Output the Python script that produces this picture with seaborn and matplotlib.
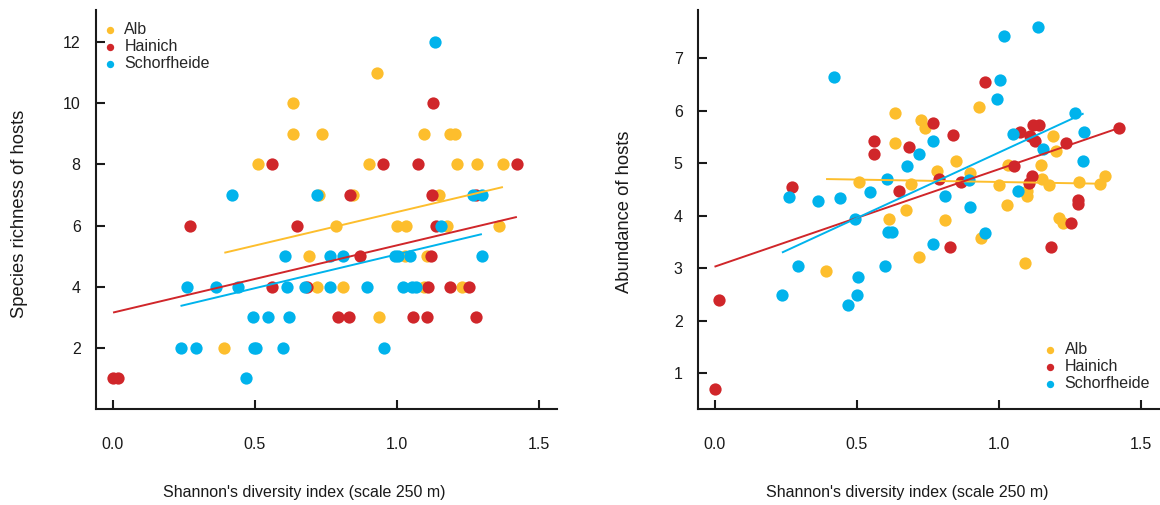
import numpy as np
import pandas as pd
import matplotlib
matplotlib.use("Agg")
import matplotlib.pyplot as plt
import seaborn as sns

# ---------------- data ----------------
sites = ["Alb", "Hainich", "Schorfheide"]
site_colors = ["#FDBE2D", "#D0262A", "#00B3EC"]

# Left panel: species richness of hosts
alb_rich_x = [0.930, 0.635, 0.635, 0.737, 1.095, 1.186, 1.204, 0.512, 0.900, 1.209,
              1.280, 1.372, 0.725, 0.846, 1.147, 0.785, 1.000, 1.032, 1.174, 1.358,
              0.691, 1.028, 1.104, 0.718, 0.811, 1.095, 1.227, 0.937, 0.393]
alb_rich_y = [11, 10, 9, 9, 9, 9, 9, 8, 8, 8,
              8, 8, 7, 7, 7, 6, 6, 6, 6, 6,
              5, 5, 5, 4, 4, 4, 4, 3, 2]
hai_rich_x = [1.126, 0.561, 0.951, 1.073, 1.421, 0.835, 1.121, 1.276, 0.274, 0.649,
              1.136, 0.870, 1.118, 0.560, 0.685, 1.109, 1.186, 1.253, 0.792, 0.830,
              1.055, 1.104, 1.279, 0.002, 0.018]
hai_rich_y = [10, 8, 8, 8, 8, 7, 7, 7, 6, 6,
              6, 5, 5, 4, 4, 4, 4, 4, 3, 3,
              3, 3, 3, 1, 1]
sch_rich_x = [1.133, 0.421, 0.718, 1.267, 1.298, 1.154, 0.607, 0.765, 0.811, 0.993,
              1.004, 1.046, 1.297, 0.262, 0.364, 0.442, 0.613, 0.677, 0.765, 0.895,
              1.020, 1.051, 1.067, 0.495, 0.547, 0.621, 0.239, 0.295, 0.496, 0.505,
              0.599, 0.954, 0.469]
sch_rich_y = [12, 7, 7, 7, 7, 6, 5, 5, 5, 5,
              5, 5, 5, 4, 4, 4, 4, 4, 4, 4,
              4, 4, 4, 3, 3, 3, 2, 2, 2, 2,
              2, 2, 1]

# Right panel: abundance of hosts
alb_abun_x = [0.392, 0.509, 0.612, 0.636, 0.636, 0.673, 0.691, 0.720, 0.725, 0.738,
              0.781, 0.810, 0.847, 0.899, 0.931, 0.937, 1.001, 1.027, 1.033, 1.092,
              1.097, 1.097, 1.147, 1.151, 1.174, 1.188, 1.200, 1.209, 1.223, 1.280,
              1.356, 1.372]
alb_abun_y = [2.95, 4.65, 3.94, 5.95, 5.39, 4.11, 4.61, 3.22, 5.83, 5.67,
              4.86, 3.92, 5.04, 4.81, 6.08, 3.57, 4.59, 4.20, 4.97, 3.10,
              4.48, 4.38, 4.97, 4.70, 4.59, 5.52, 5.24, 3.95, 3.87, 4.65,
              4.61, 4.76]
hai_abun_x = [0.000, 0.015, 0.273, 0.560, 0.560, 0.649, 0.683, 0.767, 0.790, 0.828,
              0.837, 0.867, 0.951, 1.054, 1.074, 1.106, 1.109, 1.115, 1.118, 1.128,
              1.139, 1.184, 1.235, 1.253, 1.278, 1.278, 1.420]
hai_abun_y = [0.70, 2.40, 4.55, 5.43, 5.17, 4.47, 5.32, 5.76, 4.70, 3.40,
              5.54, 4.64, 6.54, 4.95, 5.60, 4.63, 5.52, 4.75, 5.73, 5.42,
              5.73, 3.40, 5.38, 3.87, 4.31, 4.23, 5.67]
sch_abun_x = [0.237, 0.261, 0.295, 0.363, 0.419, 0.441, 0.470, 0.495, 0.500, 0.503,
              0.547, 0.598, 0.605, 0.610, 0.622, 0.676, 0.718, 0.767, 0.769, 0.810,
              0.893, 0.897, 0.952, 0.993, 1.005, 1.019, 1.048, 1.068, 1.136, 1.153,
              1.268, 1.295, 1.297]
sch_abun_y = [2.49, 4.36, 3.04, 4.29, 6.64, 4.33, 2.30, 3.93, 2.49, 2.84,
              4.46, 3.04, 4.70, 3.70, 3.69, 4.95, 5.17, 5.42, 3.46, 4.38,
              4.68, 4.17, 3.67, 6.22, 6.58, 7.43, 5.56, 4.47, 7.60, 5.27,
              5.96, 5.04, 5.60]

# fitted regression lines per site (intercept, slope)
rich_intercepts = [4.247, 3.150, 2.840]
rich_slopes = [2.196, 2.204, 2.219]
abun_intercepts = [4.736, 3.030, 2.707]
abun_slopes = [-0.092, 1.859, 2.500]

x_ticks = [0.0, 0.5, 1.0, 1.5]
x_tick_labels = ["0.0", "0.5", "1.0", "1.5"]
rich_ticks = [2, 4, 6, 8, 10, 12]
abun_ticks = [1, 2, 3, 4, 5, 6, 7]

x_label = "Shannon's diversity index (scale 250 m)"
rich_label = "Species richness of hosts"
abun_label = "Abundance of hosts"


def make_df(xs, ys):
    frames = []
    for site, x, y in zip(sites, xs, ys):
        frames.append(pd.DataFrame({"site": site, "x": x, "y": y}))
    return pd.concat(frames, ignore_index=True)


rich_df = make_df([alb_rich_x, hai_rich_x, sch_rich_x], [alb_rich_y, hai_rich_y, sch_rich_y])
abun_df = make_df([alb_abun_x, hai_abun_x, sch_abun_x], [alb_abun_y, hai_abun_y, sch_abun_y])

# ---------------- style ----------------
sns.set_theme(style="white")
plt.rcParams["font.family"] = ["Liberation Sans", "DejaVu Sans"]
FS = 11.5
YFS = 13.2
INK = "#1a1a1a"

W, H = 1160, 505
fig = plt.figure(figsize=(W / 100, H / 100), dpi=100)
ax1 = fig.add_axes([96 / W, 1 - 409 / H, 461 / W, 399 / H])
ax2 = fig.add_axes([698 / W, 1 - 409 / H, 461 / W, 399 / H])


def draw(ax, df, intercepts, slopes, yticks, ylim, ylabel, ylab_coords, xlab_coords,
         leg_anchor):
    for i, site in enumerate(sites):
        sub = df[df["site"] == site]
        sns.scatterplot(data=sub, x="x", y="y", color=site_colors[i], s=78,
                        linewidth=0, ax=ax, label=site, zorder=3 + i)
    for i, site in enumerate(sites):
        sub = df[df["site"] == site]
        xs = np.array([sub["x"].min(), sub["x"].max()])
        ax.plot(xs, intercepts[i] + slopes[i] * xs, color=site_colors[i],
                lw=1.4, zorder=7, solid_capstyle="butt")
    ax.set_xlim(-0.058, 1.562)
    ax.set_ylim(*ylim)
    ax.set_xticks(x_ticks)
    ax.set_xticklabels(x_tick_labels)
    ax.set_yticks(yticks)
    for s in ["top", "right"]:
        ax.spines[s].set_visible(False)
    for s in ["left", "bottom"]:
        ax.spines[s].set_linewidth(1.5)
        ax.spines[s].set_color(INK)
    ax.tick_params(axis="both", direction="in", length=6.5, width=1.5, color=INK,
                   labelsize=FS, labelcolor=INK, bottom=True, left=True)
    ax.tick_params(axis="x", pad=20)
    ax.tick_params(axis="y", pad=11)
    ax.set_xlabel(x_label, fontsize=FS, color=INK)
    ax.set_ylabel(ylabel, fontsize=YFS, color=INK)
    ax.xaxis.set_label_coords(*xlab_coords)
    ax.yaxis.set_label_coords(*ylab_coords)
    ax.legend(loc="upper left", bbox_to_anchor=leg_anchor, frameon=False,
              markerscale=0.6, fontsize=FS, handlelength=1.0, handletextpad=0.4,
              labelspacing=0.12, borderaxespad=0, borderpad=0)


draw(ax1, rich_df, rich_intercepts, rich_slopes, rich_ticks, (0.0, 13.05), rich_label,
     (-0.147, 0.49), (0.451, -0.19), (0.013, 0.969))
draw(ax2, abun_df, abun_intercepts, abun_slopes, abun_ticks, (0.32, 7.92), abun_label,
     (-0.142, 0.494), (0.4545, -0.19), (0.747, 0.167))

fig.savefig("out.png", dpi=100)
